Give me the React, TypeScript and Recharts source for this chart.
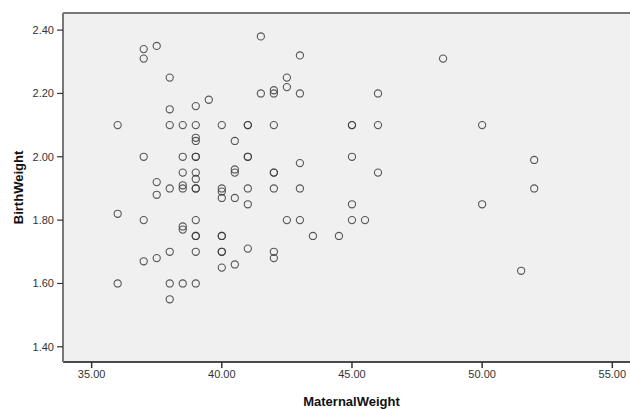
import { ScatterChart, Scatter, XAxis, YAxis, CartesianGrid, ReferenceLine } from "recharts"

const maternalWeight = [
  36, 36, 36,
  37, 37, 37, 37, 37,
  37.5, 37.5, 37.5, 37.5,
  38, 38, 38, 38, 38, 38, 38,
  38.5, 38.5, 38.5, 38.5, 38.5, 38.5, 38.5, 38.5,
  39, 39, 39, 39, 39, 39, 39, 39, 39, 39, 39, 39, 39, 39, 39,
  39.5,
  40, 40, 40, 40, 40, 40, 40, 40, 40,
  40.5, 40.5, 40.5, 40.5, 40.5,
  41, 41, 41, 41, 41, 41, 41,
  41.5, 41.5,
  42, 42, 42, 42, 42, 42, 42, 42,
  42.5, 42.5, 42.5,
  43, 43, 43, 43, 43,
  43.5,
  44.5,
  45, 45, 45, 45, 45,
  45.5,
  46, 46, 46,
  48.5,
  50, 50,
  51.5,
  52, 52,
]

const birthWeight = [
  2.1, 1.82, 1.6,
  2.34, 2.31, 2.0, 1.8, 1.67,
  2.35, 1.92, 1.88, 1.68,
  2.25, 2.15, 2.1, 1.9, 1.7, 1.6, 1.55,
  2.1, 2.0, 1.95, 1.91, 1.9, 1.78, 1.77, 1.6,
  2.16, 2.1, 2.06, 2.05, 2.0, 2.0, 1.95, 1.93, 1.9, 1.9, 1.8, 1.75, 1.75, 1.7, 1.6,
  2.18,
  2.1, 1.9, 1.89, 1.87, 1.75, 1.75, 1.7, 1.7, 1.65,
  2.05, 1.96, 1.95, 1.87, 1.66,
  2.1, 2.1, 2.0, 2.0, 1.9, 1.85, 1.71,
  2.38, 2.2,
  2.21, 2.2, 2.1, 1.95, 1.95, 1.9, 1.7, 1.68,
  2.25, 2.22, 1.8,
  2.32, 2.2, 1.98, 1.9, 1.8,
  1.75,
  1.75,
  2.1, 2.1, 2.0, 1.85, 1.8,
  1.8,
  2.2, 2.1, 1.95,
  2.31,
  2.1, 1.85,
  1.64,
  1.99, 1.9,
]

const xTicks = [35, 40, 45, 50, 55]
const yTicks = [1.4, 1.6, 1.8, 2.0, 2.2, 2.4]
const X_DOMAIN = [33.9, 55.68]
const Y_DOMAIN = [1.352, 2.454]

const points = maternalWeight.map((m, i) => ({ m, b: birthWeight[i] }))

const tickStyle = { fontFamily: "Liberation Sans, Arial, sans-serif", fontSize: 11, fill: "#333" }
const titleFont = "Liberation Sans, Arial, sans-serif"

const OpenCircle = (props: any) => {
  const { cx, cy } = props
  if (cx == null || cy == null) return null
  return <circle cx={cx} cy={cy} r={3.6} fill="none" stroke="#3a3a3a" strokeWidth={1.1} strokeOpacity={0.85} />
}

export default function App() {
  return (
    <div style={{ position: "absolute", left: 0, top: 0 }}>
      <ScatterChart width={630} height={409} margin={{ top: 13, right: 0, bottom: 0, left: 0 }}>
        <CartesianGrid fill="#f0f0f0" stroke="transparent" />
        <XAxis
          type="number"
          dataKey="m"
          domain={X_DOMAIN}
          ticks={xTicks}
          allowDataOverflow
          height={47}
          tickFormatter={(v: number) => v.toFixed(2)}
          tick={tickStyle}
          tickSize={6}
          tickMargin={2}
          axisLine={{ stroke: "#111", strokeWidth: 1.5 }}
          tickLine={{ stroke: "#333", strokeWidth: 1.5 }}
          label={{
            content: (p: any) => {
              const vb = p.viewBox
              return (
                <text x={vb.x + vb.width / 2 + 5} y={vb.y + 44} textAnchor="middle" fontFamily={titleFont} fontSize={13} fontWeight="bold" fill="#111">
                  MaternalWeight
                </text>
              )
            },
          }}
        />
        <YAxis
          type="number"
          dataKey="b"
          domain={Y_DOMAIN}
          ticks={yTicks}
          allowDataOverflow
          width={63}
          tickFormatter={(v: number) => v.toFixed(2)}
          tick={tickStyle}
          tickSize={6}
          tickMargin={3}
          axisLine={{ stroke: "#777", strokeWidth: 2 }}
          tickLine={{ stroke: "#333", strokeWidth: 1.2 }}
          label={{
            content: (p: any) => {
              const vb = p.viewBox
              const cx = 18
              const cy = vb.y + vb.height / 2
              return (
                <text x={cx} y={cy} transform={`rotate(-90 ${cx} ${cy})`} textAnchor="middle" dominantBaseline="central" fontFamily={titleFont} fontSize={13} fontWeight="bold" fill="#111">
                  BirthWeight
                </text>
              )
            },
          }}
        />
        <ReferenceLine y={Y_DOMAIN[1]} stroke="#777" strokeWidth={2} />
        <Scatter data={points} shape={OpenCircle} isAnimationActive={false} />
      </ScatterChart>
    </div>
  )
}
